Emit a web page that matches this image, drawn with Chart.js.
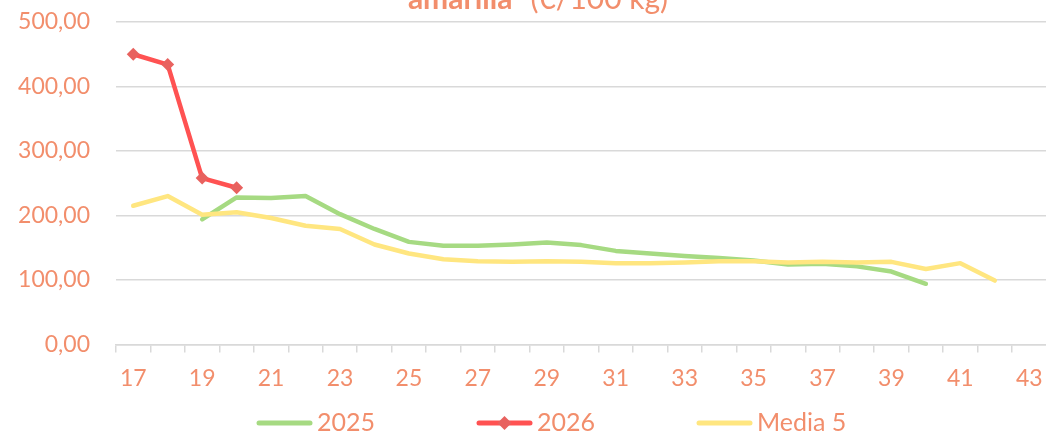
<!DOCTYPE html>
<html>
<head>
<meta charset="utf-8">
<script src="https://cdn.jsdelivr.net/npm/chart.js@4.4.1/dist/chart.umd.min.js"></script>
<style>
  html, body { margin: 0; padding: 0; background: #ffffff; overflow: hidden; }
  #wrap { width: 1046px; height: 434px; position: relative; overflow: hidden; }
  #c { display: block; }
</style>
</head>
<body>
<div id="wrap"><canvas id="c" width="1053" height="434" style="width:1053px;height:434px"></canvas></div>
<script>
// ---- data ----
const weeks = ['17','18','19','20','21','22','23','24','25','26','27','28','29','30','31','32','33','34','35','36','37','38','39','40','41','42','43'];
const shownWeekLabels = ['17','19','21','23','25','27','29','31','33','35','37','39','41','43'];
const series2025 = [null,null,194,228,227,230,202,179,159,153,153,155,158,154,145,141,137,134,130,124,125,121,113,94,null,null,null];
const series2026 = [450,434,258,243,null,null,null,null,null,null,null,null,null,null,null,null,null,null,null,null,null,null,null,null,null,null,null];
const seriesMedia5 = [215,230,201,205,196,184,179,155,141,132,129,128,129,128,126,126,127,129,129,127,128,127,128,117,126,99,null];
const seriesNames = ['2025','2026','Media 5'];
const yTickValues = [0,100,200,300,400,500];
const titleBold = 'amarilla';
const titleRest = '(€/100 kg)';

const TEXT = '#F28E6C';
const GREEN = '#A6DA82';
const RED = '#FF5252';
const RED_MARK = '#E8625F';
const YELLOW = '#FFE680';
const GRID = '#D9D9D9';
const FONT = 'Lato';

const titlePlugin = {
  id: 'cutTitle',
  afterDraw(chart) {
    const ctx = chart.ctx;
    ctx.save();
    ctx.fillStyle = TEXT;
    ctx.textBaseline = 'alphabetic';
    const fb = 'bold 30px ' + FONT;
    const fn = '30px ' + FONT;
    ctx.font = fb; const w1 = ctx.measureText(titleBold).width;
    ctx.font = fn; const gap = 18; const w2 = ctx.measureText(titleRest).width;
    const total = w1 + gap + w2;
    let x = 538 - total / 2;
    ctx.textAlign = 'left';
    ctx.font = fb; ctx.fillText(titleBold, x, 9);
    ctx.font = fn; ctx.fillText(titleRest, x + w1 + gap, 9);
    ctx.restore();
  }
};

const legendPlugin = {
  id: 'customLegend',
  afterDraw(chart) {
    const ctx = chart.ctx;
    ctx.save();
    ctx.font = '25px ' + FONT;
    ctx.textBaseline = 'middle';
    ctx.textAlign = 'left';
    const y = 423;
    const symW = 55, symGap = 5, itemGap = 102;
    const items = chart.data.datasets.map(ds => ({text: ds.label, color: ds.borderColor, marker: ds.pointRadius > 0 ? ds.pointBackgroundColor : null}));
    let x = 257;
    items.forEach(it => {
      it.tw = ctx.measureText(it.text).width;
      ctx.strokeStyle = it.color; ctx.lineWidth = 5; ctx.lineCap = 'round';
      ctx.beginPath(); ctx.moveTo(x + 2, y); ctx.lineTo(x + symW - 2, y); ctx.stroke();
      if (it.marker) {
        ctx.fillStyle = it.marker;
        const cx = x + symW / 2, r = 7;
        ctx.beginPath(); ctx.moveTo(cx, y - r); ctx.lineTo(cx + r, y); ctx.lineTo(cx, y + r); ctx.lineTo(cx - r, y); ctx.closePath(); ctx.fill();
      }
      ctx.fillStyle = TEXT;
      ctx.fillText(it.text, x + symW + symGap, y);
      x += symW + symGap + it.tw + itemGap;
    });
    ctx.restore();
  }
};

new Chart(document.getElementById('c'), {
  type: 'line',
  data: {
    labels: weeks,
    datasets: [
      { label: seriesNames[0], data: series2025, borderColor: GREEN, backgroundColor: GREEN, borderWidth: 4.5, pointRadius: 0, pointHoverRadius: 0, tension: 0, borderCapStyle: 'round', borderJoinStyle: 'round', spanGaps: false, order: 2 },
      { label: seriesNames[1], data: series2026, borderColor: RED, backgroundColor: RED, borderWidth: 4.5, pointStyle: 'rectRot', pointRadius: 6.5, pointHoverRadius: 6.5, pointBackgroundColor: RED_MARK, pointBorderColor: RED_MARK, pointBorderWidth: 0, tension: 0, borderJoinStyle: 'round', spanGaps: false, order: 0 },
      { label: seriesNames[2], data: seriesMedia5, borderColor: YELLOW, backgroundColor: YELLOW, borderWidth: 4.5, pointRadius: 0, pointHoverRadius: 0, tension: 0, borderCapStyle: 'round', borderJoinStyle: 'round', spanGaps: false, order: 1 }
    ]
  },
  options: {
    responsive: false,
    animation: false,
    layout: { padding: { top: 22, left: 0, right: 0, bottom: 30 } },
    plugins: { legend: { display: false }, title: { display: false }, tooltip: { enabled: false } },
    scales: {
      x: {
        offset: true,
        afterFit(scale) { scale.paddingLeft = 0; scale.paddingRight = 0; },
        grid: { display: true, drawOnChartArea: false, drawTicks: true, tickLength: 8, color: GRID, lineWidth: 1.5, offset: true },
        border: { display: true, color: GRID, width: 1.5 },
        ticks: {
          autoSkip: false, maxRotation: 0, minRotation: 0, padding: 12, color: TEXT,
          font: { family: FONT, size: 23 },
          callback: function(v) { const l = this.getLabelForValue(v); return shownWeekLabels.includes(l) ? l : ''; }
        }
      },
      y: {
        min: 0, max: 500,
        afterBuildTicks(scale) { scale.ticks = yTickValues.map(v => ({ value: v })); },
        afterFit(scale) { scale.width = 116; scale.paddingTop = 0; scale.paddingBottom = 0; },
        grid: { color: GRID, lineWidth: 1.5, drawTicks: false },
        border: { display: false },
        ticks: {
          padding: 26, color: TEXT, font: { family: FONT, size: 23 },
          callback: v => v.toFixed(2).replace('.', ',')
        }
      }
    }
  },
  plugins: [titlePlugin, legendPlugin]
});
</script>
</body>
</html>
